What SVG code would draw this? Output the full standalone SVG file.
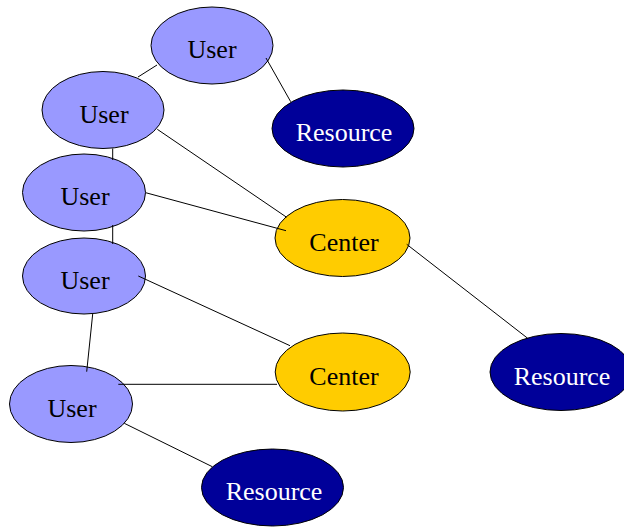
<svg xmlns="http://www.w3.org/2000/svg" width="624" height="527" viewBox="0 0 624 527">
  <style>
    .node ellipse { stroke: #000; stroke-width: 1; }
    .user ellipse { fill: #9999ff; }
    .center ellipse { fill: #ffcc00; }
    .resource ellipse { fill: #000099; }
    .node text { font-family: "Liberation Serif", "Times New Roman", serif; font-size: 26px; text-anchor: middle; fill: #000; }
    .resource text { fill: #fff; }
    #edges line { stroke: #000; stroke-width: 1; }
  </style>
  <rect width="624" height="527" fill="#fff"/>

  <g id="user1" class="node user"><ellipse cx="212" cy="45.5" rx="61" ry="38.5"/><text x="212" y="58">User</text></g>
  <g id="resource1" class="node resource"><ellipse cx="343" cy="128.5" rx="71" ry="38.5"/><text x="344" y="141">Resource</text></g>
  <g id="user2" class="node user"><ellipse cx="103" cy="110" rx="61" ry="38.5"/><text x="104" y="122.5">User</text></g>
  <g id="user3" class="node user"><ellipse cx="84" cy="192.5" rx="61.5" ry="38.5"/><text x="85" y="205">User</text></g>
  <g id="center1" class="node center"><ellipse cx="342.5" cy="238" rx="67.5" ry="38.5"/><text x="344" y="250.5">Center</text></g>
  <g id="user4" class="node user"><ellipse cx="84" cy="276" rx="61.5" ry="38"/><text x="85" y="288.5">User</text></g>
  <g id="center2" class="node center"><ellipse cx="342.7" cy="372" rx="67.5" ry="39"/><text x="344" y="384.5">Center</text></g>
  <g id="resource2" class="node resource"><ellipse cx="561" cy="372" rx="71" ry="38.5"/><text x="562" y="384.5">Resource</text></g>
  <g id="user5" class="node user"><ellipse cx="71" cy="404" rx="61.5" ry="38.5"/><text x="72" y="416.5">User</text></g>
  <g id="resource3" class="node resource"><ellipse cx="272.5" cy="487.5" rx="71" ry="38.5"/><text x="274" y="500">Resource</text></g>

  <g id="edges">
    <line x1="138" y1="77" x2="157" y2="65"/>
    <line x1="266" y1="58" x2="290.7" y2="101.7"/>
    <line x1="157.3" y1="129.3" x2="286.7" y2="217.3"/>
    <line x1="112.7" y1="148.5" x2="112.7" y2="160"/>
    <line x1="145.7" y1="192.7" x2="286" y2="230.7"/>
    <line x1="112.7" y1="225" x2="112.7" y2="244"/>
    <line x1="138.3" y1="276" x2="290" y2="345.7"/>
    <line x1="92.7" y1="314" x2="86.7" y2="371.7"/>
    <line x1="118.3" y1="384.3" x2="277" y2="384.3"/>
    <line x1="124.3" y1="423.3" x2="212.3" y2="466.7"/>
    <line x1="406.7" y1="244.3" x2="527.7" y2="338.3"/>
  </g>
</svg>
